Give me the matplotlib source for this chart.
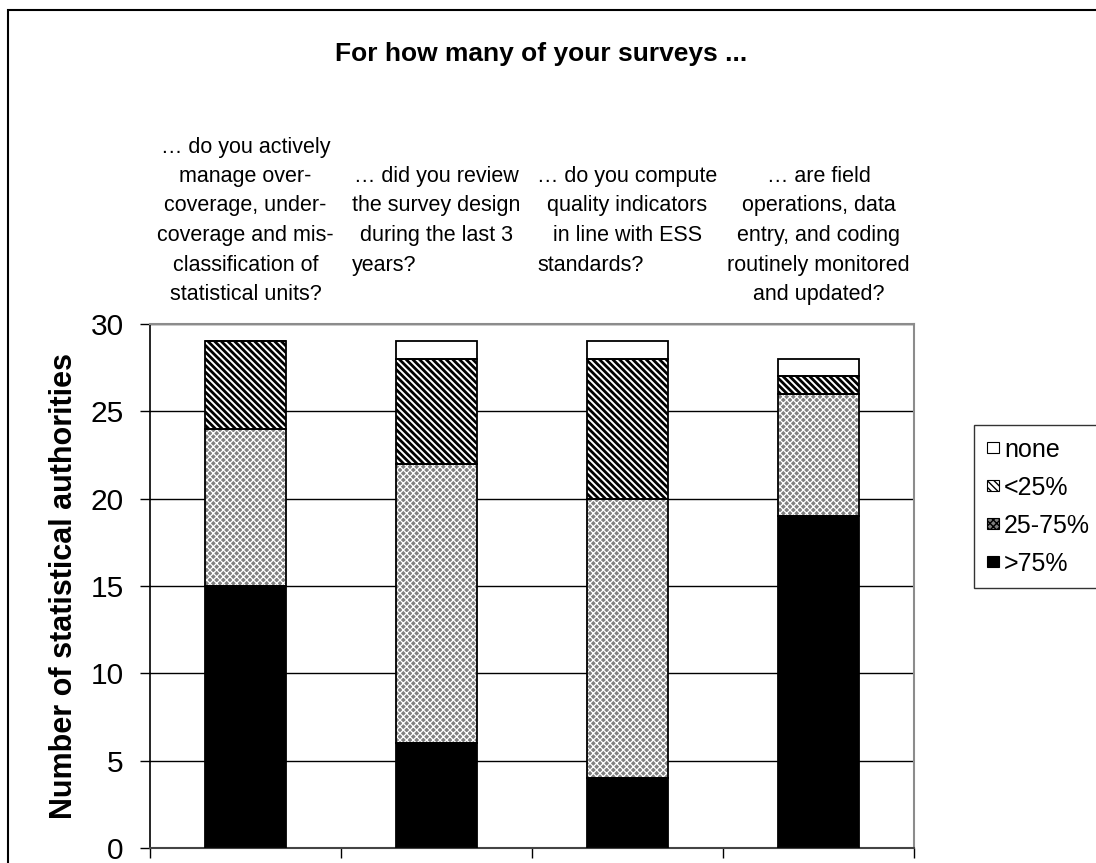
import numpy as np
import matplotlib as mpl
import matplotlib.pyplot as plt
from matplotlib.patches import Patch, Rectangle

# data (stack order bottom -> top)
series = ['>75%', '25-75%', '<25%', 'none']
gt75 = [15, 6, 4, 19]
mid = [9, 16, 16, 7]
lt25 = [5, 6, 8, 1]
none = [0, 1, 1, 1]

labels = [
    ['… do you actively', 'manage over-', 'coverage, under-', 'coverage and mis-',
     'classification of', 'statistical units?'],
    ['… did you review', 'the survey design', 'during the last 3', 'years?'],
    ['… do you compute', 'quality indicators', 'in line with ESS', 'standards?'],
    ['… are field', 'operations, data', 'entry, and coding', 'routinely monitored',
     'and updated?'],
]

values = [gt75, mid, lt25, none]
# style per series: face, hatch, hatch colour, hatch line width
styles = [
    ('black', '', 'black', 1.0),
    ('#808080', 'xxxxx', 'white', 0.9),
    ('white', '\\\\\\\\\\', 'black', 2.0),
    ('white', '', 'black', 1.0),
]

plt.rcParams['font.family'] = ['Liberation Sans', 'DejaVu Sans']

fig = plt.figure(figsize=(10.96, 8.63), dpi=100)
ax = fig.add_axes([150 / 1096, 15 / 863, 764 / 1096, 524 / 863])

x = np.arange(len(gt75))
width = 0.42
bottom = np.zeros(len(x))
for vals, (fc, hatch, hc, hlw) in zip(values, styles):
    with mpl.rc_context({'hatch.linewidth': hlw}):
        ax.bar(x, vals, width, bottom=bottom, color=fc, hatch=hatch,
               edgecolor=hc, linewidth=0, zorder=2)
    ax.bar(x, vals, width, bottom=bottom, fill=False, edgecolor='black',
           linewidth=1.3, zorder=3)
    bottom += np.array(vals)

ax.set_xlim(-0.5, len(x) - 0.5)
ax.set_ylim(0, 30)
ax.set_yticks(range(0, 31, 5))
ax.set_xticks(np.arange(-0.5, len(x), 1.0))
ax.set_xticklabels([])
ax.tick_params(axis='y', labelsize=21.5, length=7, width=1, direction='out', pad=12)
ax.tick_params(axis='x', length=7, width=1, direction='out')
ax.yaxis.grid(True, color='black', linewidth=1)
ax.set_axisbelow(True)
for side in ['top', 'right']:
    ax.spines[side].set_color('#8c8c8c')
    ax.spines[side].set_linewidth(1.5)
ax.spines['left'].set_linewidth(1.2)
ax.spines['bottom'].set_linewidth(1.5)
ax.spines['bottom'].set_color('#444444')
ax.set_ylabel('Number of statistical authorities', fontsize=22, fontweight='bold', labelpad=8)

fig.text(541 / 1096, 1 - 61 / 863, 'For how many of your surveys ...', ha='center', va='baseline',
         fontsize=19, fontweight='bold')

# category labels above the plot, one text per line
row_h = 29.5
start_row = [0, 1, 1, 1]
left_last = [False, True, True, False]
renderer = fig.canvas.get_renderer()
for i, lines in enumerate(labels):
    xc = ax.transData.transform((x[i], 0))[0] / 1096
    centered = lines[:-1] if left_last[i] else lines
    widths = []
    for j, line in enumerate(centered):
        yc = 1 - (147 + (start_row[i] + j) * row_h) / 863
        t = fig.text(xc, yc, line, ha='center', va='center', fontsize=15.5)
        widths.append(t.get_window_extent(renderer).width)
    if left_last[i]:
        j = len(lines) - 1
        yc = 1 - (147 + (start_row[i] + j) * row_h) / 863
        fig.text(xc - max(widths) / 2 / 1096, yc, lines[-1], ha='left', va='center', fontsize=15.5)

# legend (reversed order, as in the stack)
handles = []
for s, (fc, hatch, hc, hlw) in reversed(list(zip(series, styles))):
    handles.append(Patch(facecolor=fc, hatch=hatch, edgecolor='black', linewidth=0.8, label=s))
leg = fig.legend(handles=handles, loc='upper left', bbox_to_anchor=(974 / 1096, 1 - 425 / 863),
                 frameon=True, fancybox=False, edgecolor='black', fontsize=18,
                 handlelength=0.5, handleheight=0.3, handletextpad=0.2, labelspacing=0.56,
                 borderpad=0.5, borderaxespad=0)
leg.get_frame().set_linewidth(1)

# outer chart border
fig.patches.append(Rectangle((8 / 1096, -0.1), 1.2, 1 - 10 / 863 + 0.1, transform=fig.transFigure,
                             fill=False, edgecolor='black', linewidth=1.5))

fig.savefig('out.png', dpi=100)
